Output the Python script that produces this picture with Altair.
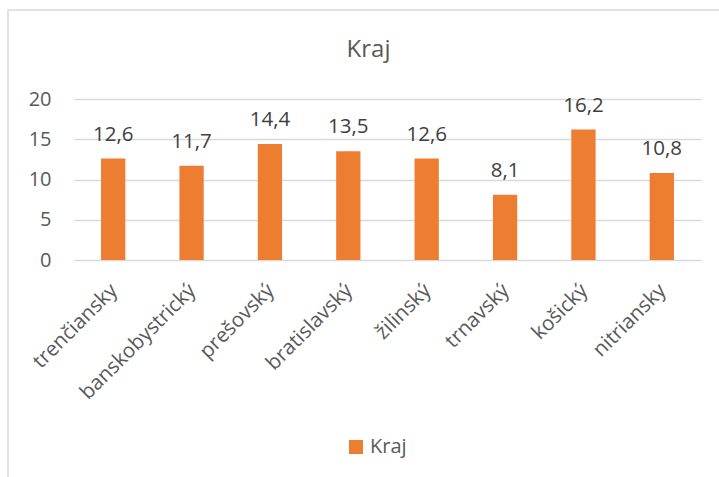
import altair as alt
import pandas as pd

# Regions and their values
kraje = ["trenčiansky", "banskobystrický", "prešovský", "bratislavský",
         "žilinský", "trnavský", "košický", "nitriansky"]
hodnoty = [12.6, 11.7, 14.4, 13.5, 12.6, 8.1, 16.2, 10.8]
popisky = ["12,6", "11,7", "14,4", "13,5", "12,6", "8,1", "16,2", "10,8"]
seria = "Kraj"
y_ticks = [0, 5, 10, 15, 20]

df = pd.DataFrame({
    "kraj": kraje,
    "hodnota": hodnoty,
    "popis": popisky,
    "seria": [seria] * len(kraje),
})

FONT = "Open Sans"
ORANGE = "#ED7D31"

x_enc = alt.X(
    "kraj:N", sort=kraje, title=None,
    scale=alt.Scale(paddingInner=0.69, paddingOuter=0.345),
    axis=alt.Axis(labelAngle=-45, labelFontSize=20.5, labelColor="#595959",
                  labelFont=FONT, ticks=False, domain=False, labelPadding=20,
                  labelOffset=-6, labelLimit=300),
)
y_enc = alt.Y(
    "hodnota:Q", title=None,
    scale=alt.Scale(domain=[0, 20], nice=False),
    axis=alt.Axis(values=y_ticks, labelFontSize=20, labelColor="#595959",
                  labelFont=FONT, ticks=False, domain=False, labelPadding=23,
                  grid=True, gridColor="#D9D9D9", gridWidth=1.5),
)

bars = alt.Chart(df).mark_bar().encode(
    x=x_enc,
    y=y_enc,
    color=alt.Color(
        "seria:N", title=None,
        scale=alt.Scale(range=[ORANGE]),
        legend=alt.Legend(orient="none", legendX=272, legendY=338,
                          symbolType="square", symbolSize=196,
                          labelFontSize=20, labelColor="#595959",
                          labelFont=FONT, symbolStrokeWidth=0),
    ),
)

labels = alt.Chart(df).mark_text(
    baseline="alphabetic", dy=-18, fontSize=20.5, font=FONT, color="#404040"
).encode(
    x=alt.X("kraj:N", sort=kraje),
    y=alt.Y("hodnota:Q"),
    text="popis:N",
)

# Light frame around the whole chart
frame = alt.Chart(df.head(1)).mark_rect(
    fill=None, stroke="#D9D9D9", strokeWidth=1.5
).encode(
    x=alt.value(-66), x2=alt.value(700), y=alt.value(-89), y2=alt.value(420)
)

chart = alt.layer(frame, bars, labels).properties(
    width=627, height=161,
    title=alt.TitleParams("Kraj", anchor="middle", dx=-19, offset=-72,
                          baseline="alphabetic",
                          fontSize=24, font=FONT, color="#595959",
                          fontWeight="normal"),
    autosize=alt.AutoSizeParams(type="none"),
    padding={"left": 74, "top": 99, "right": 18, "bottom": 217},
).configure_view(stroke=None)

chart.save("out.html", embed_options={"renderer": "svg", "actions": False})
